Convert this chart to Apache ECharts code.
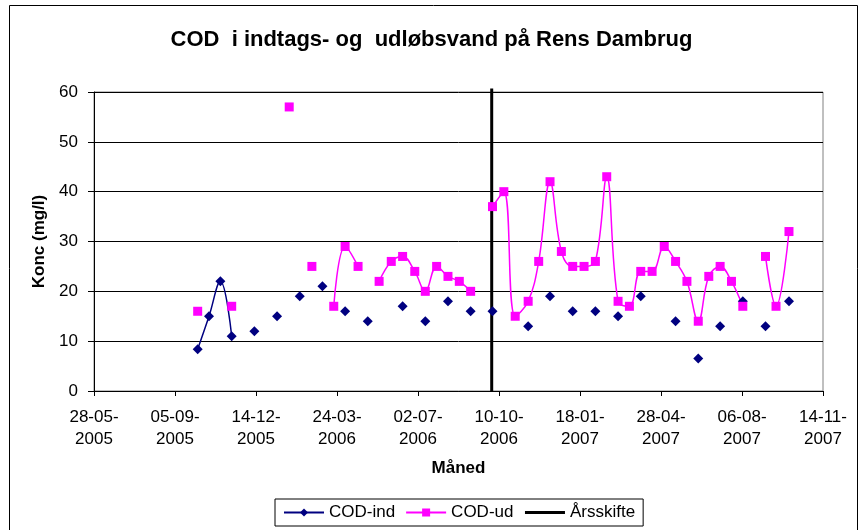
<!DOCTYPE html>
<html>
<head>
<meta charset="utf-8">
<script src="https://cdn.jsdelivr.net/npm/echarts@6/dist/echarts.min.js"></script>
<style>
  html, body { margin: 0; padding: 0; background: #fff; }
  #chart { width: 863px; height: 530px; }
</style>
</head>
<body>
<div id="chart"></div>
<script>
// prøvedatoer (fælles for ind og ud), tomme felter = null
const sampleDates = [
  '2005-10-03', '2005-10-17', '2005-10-31', '2005-11-14', '2005-11-28', '2005-12-12', '2005-12-26',
  '2006-01-09', '2006-01-24', '2006-02-06', '2006-02-21', '2006-03-06', '2006-03-20', '2006-04-03',
  '2006-04-19', '2006-05-01', '2006-05-15', '2006-05-30', '2006-06-13', '2006-06-28', '2006-07-11',
  '2006-07-25', '2006-08-08', '2006-08-22', '2006-09-05', '2006-09-19', '2006-10-02', '2006-10-16',
  '2006-10-30', '2006-11-15', '2006-11-28', '2006-12-12', '2006-12-26', '2007-01-09', '2007-01-23',
  '2007-02-06', '2007-02-20', '2007-03-06', '2007-03-20', '2007-04-03', '2007-04-17', '2007-05-02',
  '2007-05-16', '2007-05-30', '2007-06-13', '2007-06-26', '2007-07-10', '2007-07-24', '2007-08-07',
  '2007-08-21', '2007-09-04', '2007-09-17', '2007-10-03'
];
const codInd = [
  8.4, 15, 22, 11, null, 12, null,
  15, null, 19, null, 21, null, 16,
  null, 14, null, null, 17, null, 14,
  null, 18, null, 16, null, 16, null,
  null, 13, null, 19, null, 16, null,
  16, null, 15, null, 19, null, null,
  14, null, 6.5, null, 13, null, 18,
  null, 13, null, 18
];
const codUd = [
  16, null, null, 17, null, null, null,
  null, 57, null, 25, null, 17, 29,
  25, null, 22, 26, 27, 24, 20,
  25, 23, 22, 20, null, 37, 40,
  15, 18, 26, 42, 28, 25, 25,
  26, 43, 18, 17, 24, 24, 29,
  26, 22, 14, 23, 25, 22, 17,
  null, 27, 17, 32
];
// årsskifte-linjen
const shiftDates = ['2006-10-01', '2006-10-01'];
const shiftValues = [0, 60.7];

const startDate = '2005-05-28';   // første x-tick
const xTickDays = 100;            // afstand mellem x-ticks
const xMaxDays = 900;             // 14-11-2007

function dayOf(s) {
  const p = s.split('-');
  const a = Date.UTC(+p[0], +p[1] - 1, +p[2]);
  const q = startDate.split('-');
  const b = Date.UTC(+q[0], +q[1] - 1, +q[2]);
  return Math.round((a - b) / 864e5);
}

function dateLabel(v) {
  const q = startDate.split('-');
  const d = new Date(Date.UTC(+q[0], +q[1] - 1, +q[2]) + v * 864e5);
  const dd = String(d.getUTCDate()).padStart(2, '0');
  const mm = String(d.getUTCMonth() + 1).padStart(2, '0');
  return dd + '-' + mm + '-\n' + d.getUTCFullYear();
}

function pairs(dates, values) {
  return dates.map((d, i) => [dayOf(d), values[i] == null ? '-' : values[i]]);
}

const font = 'Liberation Sans, Arial, sans-serif';
const chart = echarts.init(document.getElementById('chart'));

const option = {
  backgroundColor: '#fff',
  animation: false,
  textStyle: { fontFamily: font, color: '#000' },
  title: {
    text: 'COD  i indtags- og  udløbsvand på Rens Dambrug',
    left: 'center',
    top: 24,
    textStyle: { fontFamily: font, fontSize: 22, fontWeight: 'bold', color: '#000' }
  },
  graphic: [{
    type: 'rect',
    shape: { x: 9.5, y: 5.5, width: 848, height: 560 },
    style: { fill: null, stroke: '#000', lineWidth: 1 },
    silent: true
  }],
  legend: {
    left: 275,
    top: 499,
    itemWidth: 40,
    itemHeight: 10,
    itemGap: 10,
    padding: [5, 8, 5, 8],
    borderColor: '#000',
    borderWidth: 1,
    backgroundColor: '#fff',
    textStyle: { fontFamily: font, fontSize: 17, color: '#000' },
    data: [
      'COD-ind',
      'COD-ud',
      { name: 'Årsskifte', itemStyle: { opacity: 0 }, lineStyle: { width: 3 } }
    ]
  },
  grid: {
    left: 94,
    right: 40,
    top: 92,
    bottom: 139,
    show: true,
    borderColor: '#808080',
    borderWidth: 1,
    containLabel: false
  },
  xAxis: {
    type: 'value',
    min: 0,
    max: xMaxDays,
    interval: xTickDays,
    name: 'Måned',
    nameLocation: 'middle',
    nameGap: 69,
    nameTextStyle: { fontFamily: font, fontSize: 17, fontWeight: 'bold', color: '#000' },
    axisLine: { show: true, lineStyle: { color: '#000', width: 1 } },
    axisTick: { show: true, inside: false, length: 5, lineStyle: { color: '#000' } },
    axisLabel: {
      fontFamily: font,
      fontSize: 17,
      color: '#000',
      lineHeight: 22,
      margin: 15,
      formatter: dateLabel
    },
    splitLine: { show: false }
  },
  yAxis: {
    type: 'value',
    min: 0,
    max: 60,
    interval: 10,
    name: 'Konc (mg/l)',
    nameLocation: 'middle',
    nameGap: 46,
    nameRotate: 90,
    nameTextStyle: { fontFamily: font, fontSize: 17, fontWeight: 'bold', color: '#000' },
    axisLine: { show: true, lineStyle: { color: '#000', width: 1 } },
    axisTick: { show: true, inside: false, length: 6, lineStyle: { color: '#000' } },
    axisLabel: { fontFamily: font, fontSize: 17, color: '#000', margin: 16 },
    splitLine: { show: true, lineStyle: { color: '#000', width: 1 } }
  },
  series: [
    {
      name: 'COD-ind',
      type: 'line',
      data: pairs(sampleDates, codInd),
      smooth: 0.4,
      connectNulls: false,
      symbol: 'diamond',
      symbolSize: 10,
      showAllSymbol: true,
      itemStyle: { color: '#000080' },
      lineStyle: { color: '#000080', width: 1.5 }
    },
    {
      name: 'COD-ud',
      type: 'line',
      data: pairs(sampleDates, codUd),
      smooth: 0.4,
      connectNulls: false,
      symbol: 'rect',
      symbolSize: 9,
      showAllSymbol: true,
      itemStyle: { color: '#FF00FF' },
      lineStyle: { color: '#FF00FF', width: 1.5 }
    },
    {
      name: 'Årsskifte',
      type: 'line',
      data: pairs(shiftDates, shiftValues),
      symbol: 'none',
      clip: false,
      itemStyle: { color: '#000' },
      lineStyle: { color: '#000', width: 3 }
    }
  ]
};

chart.setOption(option);
</script>
</body>
</html>
